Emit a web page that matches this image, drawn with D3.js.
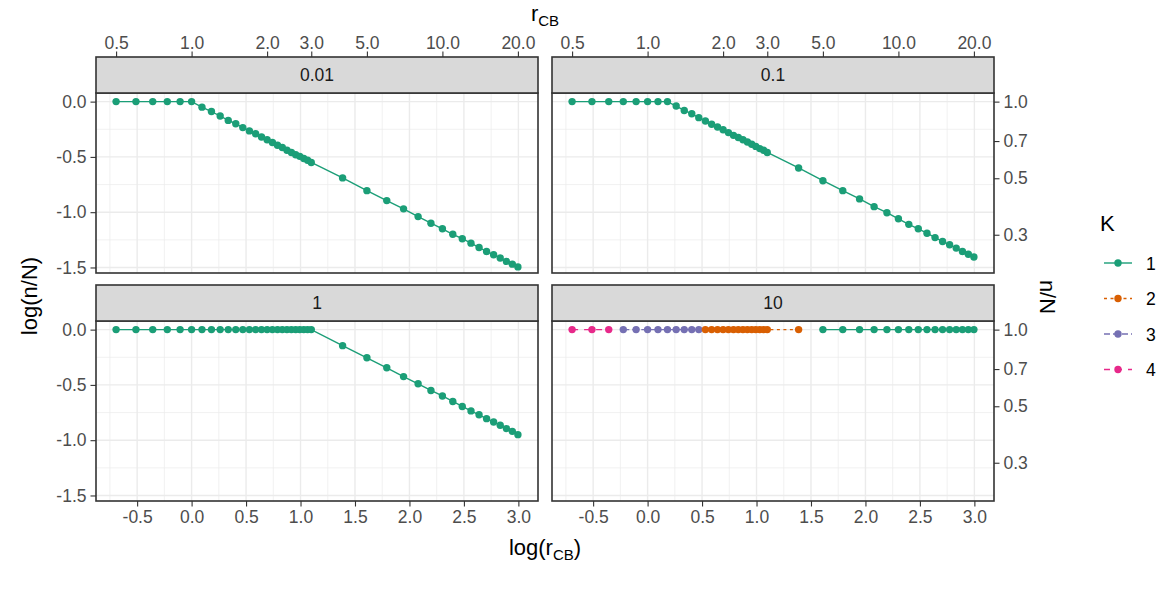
<!DOCTYPE html>
<html>
<head>
<meta charset="utf-8">
<title>log(n/N) vs log(rCB)</title>
<script src="https://d3js.org/d3.v7.min.js"></script>
<style>
  body { margin: 0; background: #fff; }
  text { font-family: "Liberation Sans", Arial, sans-serif; }
</style>
</head>
<body>
<script>
// r_CB grid shared by all four facets
const rCB = [0.5, 0.6, 0.7, 0.8, 0.9, 1.0, 1.1, 1.2, 1.3, 1.4, 1.5, 1.6, 1.7, 1.8, 1.9, 2.0,
  2.1, 2.2, 2.3, 2.4, 2.5, 2.6, 2.7, 2.8, 2.9, 3.0, 4, 5, 6, 7, 8, 9, 10, 11, 12, 13, 14,
  15, 16, 17, 18, 19, 20];

// log(n/N) per facet
const logN_001 = [0, 0, 0, 0, 0, 0, -0.05, -0.09, -0.13, -0.17, -0.20, -0.235, -0.265, -0.29,
  -0.32, -0.345, -0.37, -0.395, -0.415, -0.44, -0.46, -0.48, -0.495, -0.515, -0.53, -0.55,
  -0.69, -0.805, -0.895, -0.97, -1.04, -1.10, -1.15, -1.20, -1.24, -1.28, -1.32, -1.355,
  -1.385, -1.415, -1.445, -1.47, -1.495];
const logN_01 = [0, 0, 0, 0, 0, 0, 0, 0, -0.04, -0.08, -0.11, -0.145, -0.175, -0.205, -0.23,
  -0.255, -0.28, -0.305, -0.325, -0.345, -0.365, -0.385, -0.405, -0.425, -0.44, -0.46,
  -0.60, -0.715, -0.805, -0.88, -0.95, -1.005, -1.06, -1.11, -1.15, -1.19, -1.23, -1.265,
  -1.295, -1.325, -1.355, -1.38, -1.405];
const logN_1 = [0, 0, 0, 0, 0, 0, 0, 0, 0, 0, 0, 0, 0, 0, 0, 0, 0, 0, 0, 0, 0, 0, 0, 0, 0, 0,
  -0.145, -0.255, -0.345, -0.425, -0.49, -0.55, -0.60, -0.65, -0.695, -0.735, -0.77, -0.805,
  -0.835, -0.865, -0.895, -0.92, -0.95];
const logN_10 = [0, 0, 0, 0, 0, 0, 0, 0, 0, 0, 0, 0, 0, 0, 0, 0, 0, 0, 0, 0, 0, 0, 0, 0, 0, 0,
  0, 0, 0, 0, 0, 0, 0, 0, 0, 0, 0, 0, 0, 0, 0, 0, 0];

// K (cluster count) for the "10" facet; the other facets are all K = 1
const K_10 = [4, 4, 4, 3, 3, 3, 3, 3, 3, 3, 3, 3, 2, 2, 2, 2, 2, 2, 2, 2, 2, 2, 2, 2, 2, 2,
  2, 1, 1, 1, 1, 1, 1, 1, 1, 1, 1, 1, 1, 1, 1, 1, 1];

const facetLabels = ["0.01", "0.1", "1", "10"];
const kLevels = ["1", "2", "3", "4"];
const kColors = ["#1B9E77", "#D95F02", "#7570B3", "#E7298A"];
const kDash = [null, "3,3.5", "6,3", "6,6"];

const bottomTicks = [-0.5, 0.0, 0.5, 1.0, 1.5, 2.0, 2.5, 3.0];
const topTicks = [0.5, 1.0, 2.0, 3.0, 5.0, 10.0, 20.0];
const leftTicks = [0.0, -0.5, -1.0, -1.5];
const rightTicks = [1.0, 0.7, 0.5, 0.3];

const [width, height] = [1170, 591];
const colX = [96, 552], rowY = [93, 321];
const [pw, ph, stripH] = [442, 180, 36];

const svg = d3.select("body").append("svg")
  .attr("width", width)
  .attr("height", height)
  .style("background", "#fff");

// x: log(r) with ggplot-style 5% expansion
const xExt = d3.extent(rCB, d => Math.log(d));
const xPad = (xExt[1] - xExt[0]) * 0.05;
const xDom = [xExt[0] - xPad, xExt[1] + xPad];
const yDom = [-1.55, 0.078];

const x = d3.scaleLinear().domain(xDom).range([0, pw]);
const xTop = d3.scaleLog().base(Math.E).domain(xDom.map(Math.exp)).range([0, pw]);
const y = d3.scaleLinear().domain(yDom).range([ph, 0]);
const yRight = d3.scaleLog().base(Math.E).domain(yDom.map(Math.exp)).range([ph, 0]);

const xMinor = d3.range(-0.75, 3.1, 0.5);
const yMinor = [-0.25, -0.75, -1.25];

const facets = [
  { label: facetLabels[0], col: 0, row: 0, vals: logN_001, k: null },
  { label: facetLabels[1], col: 1, row: 0, vals: logN_01, k: null },
  { label: facetLabels[2], col: 0, row: 1, vals: logN_1, k: null },
  { label: facetLabels[3], col: 1, row: 1, vals: logN_10, k: K_10 }
];

const fmt1 = d => d.toFixed(1);

function styleAxis(g) {
  g.select(".domain").remove();
  g.selectAll(".tick line").attr("stroke", "#333333").attr("stroke-width", 1.1);
  g.selectAll(".tick text")
    .attr("fill", "#4D4D4D")
    .style("font-size", "17.5px");
}

const line = d3.line().x(d => x(Math.log(d.r))).y(d => y(d.v));

facets.forEach(f => {
  const g = svg.append("g")
    .attr("transform", `translate(${colX[f.col]},${rowY[f.row]})`);

  // grid
  g.selectAll(".xminor").data(xMinor).enter().append("line")
    .attr("x1", d => x(d)).attr("x2", d => x(d))
    .attr("y1", 0).attr("y2", ph)
    .style("stroke", "#EBEBEB").style("stroke-width", 0.7);
  g.selectAll(".yminor").data(yMinor).enter().append("line")
    .attr("x1", 0).attr("x2", pw)
    .attr("y1", d => y(d)).attr("y2", d => y(d))
    .style("stroke", "#EBEBEB").style("stroke-width", 0.7);
  g.selectAll(".xmajor").data(bottomTicks).enter().append("line")
    .attr("x1", d => x(d)).attr("x2", d => x(d))
    .attr("y1", 0).attr("y2", ph)
    .style("stroke", "#EBEBEB").style("stroke-width", 1.4);
  g.selectAll(".ymajor").data(leftTicks).enter().append("line")
    .attr("x1", 0).attr("x2", pw)
    .attr("y1", d => y(d)).attr("y2", d => y(d))
    .style("stroke", "#EBEBEB").style("stroke-width", 1.4);

  const pts = rCB.map((r, i) => ({ r: r, v: f.vals[i], k: f.k ? String(f.k[i]) : "1" }));
  const groups = d3.groups(pts, d => d.k);

  groups.forEach(([k, arr]) => {
    const ki = kLevels.indexOf(k);
    g.append("path")
      .datum(arr)
      .attr("d", line)
      .style("fill", "none")
      .style("stroke", kColors[ki])
      .style("stroke-width", 1.4)
      .style("stroke-dasharray", kDash[ki]);
  });

  g.selectAll("circle").data(pts).enter().append("circle")
    .attr("cx", d => x(Math.log(d.r)))
    .attr("cy", d => y(d.v))
    .attr("r", 3.7)
    .style("fill", d => kColors[kLevels.indexOf(d.k)]);

  // panel border
  g.append("rect")
    .attr("width", pw).attr("height", ph)
    .style("fill", "none").style("stroke", "#333333").style("stroke-width", 1.6);

  // strip
  g.append("rect")
    .attr("y", -stripH).attr("width", pw).attr("height", stripH)
    .style("fill", "#D9D9D9").style("stroke", "#333333").style("stroke-width", 1.6);
  g.append("text")
    .attr("x", pw / 2).attr("y", -stripH / 2 + 6)
    .attr("text-anchor", "middle")
    .style("font-size", "17.5px").style("fill", "#1A1A1A")
    .text(f.label);

  // axes on outer panels only
  if (f.row === 0) {
    g.append("g").attr("transform", `translate(0,${-stripH})`)
      .call(d3.axisTop(xTop).tickValues(topTicks).tickFormat(fmt1).tickSize(5.5).tickPadding(3))
      .call(styleAxis);
  }
  if (f.row === 1) {
    g.append("g").attr("transform", `translate(0,${ph})`)
      .call(d3.axisBottom(x).tickValues(bottomTicks).tickFormat(fmt1).tickSize(5.5).tickPadding(4))
      .call(styleAxis);
  }
  if (f.col === 0) {
    g.append("g")
      .call(d3.axisLeft(y).tickValues(leftTicks).tickFormat(fmt1).tickSize(5.5).tickPadding(4))
      .call(styleAxis);
  }
  if (f.col === 1) {
    g.append("g").attr("transform", `translate(${pw},0)`)
      .call(d3.axisRight(yRight).tickValues(rightTicks).tickFormat(fmt1).tickSize(5.5).tickPadding(4))
      .call(styleAxis);
  }
});

// axis titles
const midX = (colX[0] + colX[1] + pw) / 2;

const tTop = svg.append("text")
  .attr("x", midX).attr("y", 21)
  .attr("text-anchor", "middle")
  .style("font-size", "22px");
tTop.append("tspan").text("r");
tTop.append("tspan").attr("dy", 5).style("font-size", "15px").text("CB");

const tBot = svg.append("text")
  .attr("x", midX).attr("y", 555)
  .attr("text-anchor", "middle")
  .style("font-size", "22px");
tBot.append("tspan").text("log(r");
tBot.append("tspan").attr("dy", 5).style("font-size", "15px").text("CB");
tBot.append("tspan").attr("dy", -5).text(")");

svg.append("text")
  .attr("transform", "translate(37,296) rotate(-90)")
  .attr("text-anchor", "middle")
  .style("font-size", "22px")
  .text("log(n/N)");

svg.append("text")
  .attr("transform", "translate(1040,297) rotate(90)")
  .attr("text-anchor", "middle")
  .style("font-size", "22px")
  .text("n/N");

// legend
const legend = svg.append("g").attr("transform", "translate(1100,0)");
legend.append("text")
  .attr("x", 0).attr("y", 231)
  .style("font-size", "22px")
  .text("K");

const item = legend.selectAll(".key").data(kLevels).enter().append("g")
  .attr("transform", (d, i) => `translate(0,${263 + i * 35.5})`);
item.append("line")
  .attr("x1", 4).attr("x2", 32)
  .style("stroke", (d, i) => kColors[i])
  .style("stroke-width", 1.4)
  .style("stroke-dasharray", (d, i) => kDash[i]);
item.append("circle")
  .attr("cx", 18).attr("r", 3.7)
  .style("fill", (d, i) => kColors[i]);
item.append("text")
  .attr("x", 46).attr("y", 6.5)
  .style("font-size", "17.5px")
  .text(d => d);
</script>
</body>
</html>
